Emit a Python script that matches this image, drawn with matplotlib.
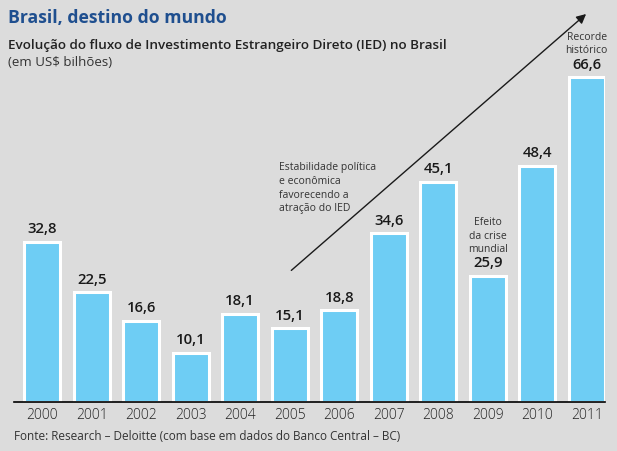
import matplotlib.pyplot as plt

years = ['2000', '2001', '2002', '2003', '2004', '2005', '2006', '2007', '2008', '2009', '2010', '2011']
ied = [32.8, 22.5, 16.6, 10.1, 18.1, 15.1, 18.8, 34.6, 45.1, 25.9, 48.4, 66.6]

plt.rcParams['font.family'] = ['Open Sans', 'DejaVu Sans']
bg = '#dcdcdc'

fig = plt.figure(figsize=(6.17, 4.51), dpi=100, facecolor=bg)
# eixo posicionado em pixels: base em y=402, de x=14 a x=605
ax = fig.add_axes([14 / 617, (451 - 402) / 451, (605 - 14) / 617, 402 / 451])
ax.set_facecolor(bg)
ax.patch.set_alpha(0)

x = list(range(len(years)))
bars = ax.bar(x, ied, width=0.72, color='#6ecdf4', edgecolor='white', linewidth=2.2, zorder=2)
ax.set_xlim(-0.57, 11.37)
ax.set_ylim(0, 82.4)

for xi, v in zip(x, ied):
    ax.annotate(f'{v:.1f}'.replace('.', ','), xy=(xi, v), xytext=(0, 4),
                textcoords='offset points', ha='center', va='bottom',
                fontsize=10.7, fontweight='semibold', color='#1a1a1a')

for s in ['top', 'right', 'left']:
    ax.spines[s].set_visible(False)
ax.spines['bottom'].set_linewidth(1.2)
ax.set_yticks([])
ax.set_xticks(x)
ax.set_xticklabels(years, fontsize=10, fontweight='light', color='#222222')
ax.tick_params(axis='x', length=0, pad=4)

# seta de tendencia
ax.annotate('', xy=(11.03, 79.9), xytext=(4.99, 26.6),
            arrowprops=dict(arrowstyle='-|>', color='#1a1a1a', lw=1.0, mutation_scale=14))

ax.text(4.78, 49.1, 'Estabilidade política\ne econômica\nfavorecendo a\natração do IED',
        fontsize=7.5, color='#333333', ha='left', va='top', linespacing=1.33)
ax.text(9, 30.1, 'Efeito\nda crise\nmundial', fontsize=7.5, color='#333333',
        ha='center', va='bottom', linespacing=1.3)
ax.text(11, 70.9, 'Recorde\nhistórico', fontsize=7.5, color='#333333',
        ha='center', va='bottom', linespacing=1.3)

fig.text(8 / 617, 1 - 18 / 451, 'Brasil, destino do mundo', fontsize=12.7,
         fontweight='bold', color='#1f4f8f', va='center', ha='left')
fig.text(8 / 617, 1 - 45 / 451, 'Evolução do fluxo de Investimento Estrangeiro Direto (IED) no Brasil',
         fontsize=9.7, fontweight='semibold', color='#222222', va='center', ha='left')
fig.text(8 / 617, 1 - 63 / 451, '(em US$ bilhões)', fontsize=9.5, color='#333333',
         va='center', ha='left')
fig.text(14 / 617, 1 - 437 / 451, 'Fonte: Research – Deloitte (com base em dados do Banco Central – BC)',
         fontsize=8.5, color='#333333', va='center', ha='left')

fig.savefig('out.png', dpi=100, facecolor=bg)
